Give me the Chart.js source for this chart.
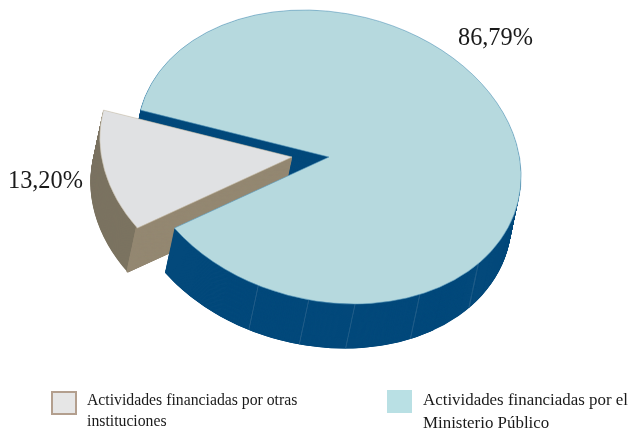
<!DOCTYPE html>
<html>
<head>
<meta charset="utf-8">
<style>
  html, body { margin: 0; padding: 0; background: #fff; }
  canvas { display: block; }
</style>
<script src="https://cdn.jsdelivr.net/npm/chart.js@4"></script>
</head>
<body>
<canvas id="pie" width="628" height="428"></canvas>
<script>
const categories = ['Actividades financiadas por el Ministerio Público', 'Actividades financiadas por otras instituciones'];
const values = [86.79, 13.20];
const percentLabels = ['86,79%', '13,20%'];
const legendLines = [
  ['Actividades financiadas por el', 'Ministerio Público'],
  ['Actividades financiadas por otras', 'instituciones']
];
const seamAngles = [46, 69, 89.5, 103.4, 119];

const topColors = ['#b6d9de', '#e0e1e3'];
const edgeColors = ['#5a9abb', '#c9bfab'];
const wallColors = ['#03497b', '#7b7360'];
const innerWallColor = '#948872';
const seamColor = '#245f8a';
const textColor = '#1a1a1a';
const FONT = '"Liberation Serif", serif';

const RADIUS = 150;
const DEG = Math.PI / 180;

// flat circle -> tilted ellipse, plus the extrusion direction of the walls
const tilt = { cx: 329, cy: 157, a: 190.5 / RADIUS, c: 25 / RADIUS, d: 147 / RADIUS };
const depth = { dx: -9.5, dy: 44.5, steps: 90 };
const explodeX = -37;

function drawPiece(ctx, arc, shiftX, shiftY, piece) {
  const saved = {
    options: arc.options, startAngle: arc.startAngle, endAngle: arc.endAngle,
    circumference: arc.circumference, innerRadius: arc.innerRadius
  };
  if (piece.start !== undefined) {
    arc.startAngle = piece.start;
    arc.endAngle = piece.end;
    arc.circumference = piece.end - piece.start;
  }
  if (piece.inner !== undefined) arc.innerRadius = piece.inner;
  if (piece.color) {
    arc.options = Object.assign({}, saved.options, {
      backgroundColor: piece.color,
      borderColor: piece.color,
      borderWidth: piece.border || 0
    });
  }
  ctx.save();
  ctx.translate(tilt.cx + shiftX, tilt.cy + shiftY);
  ctx.transform(tilt.a, 0, tilt.c, tilt.d, 0, 0);
  ctx.translate(-arc.x, -arc.y);
  arc.draw(ctx);
  ctx.restore();
  Object.assign(arc, saved);
}

function sweep(ctx, arc, offsetX, piece) {
  for (let i = depth.steps; i >= 1; i--) {
    const t = i / depth.steps;
    drawPiece(ctx, arc, offsetX + depth.dx * t, depth.dy * t, piece);
  }
}

const pie3d = {
  id: 'pie3d',
  beforeDatasetsDraw(chart) {
    const ctx = chart.ctx;
    const [big, small] = chart.getDatasetMeta(0).data;

    sweep(ctx, big, 0, { color: wallColors[0] });

    sweep(ctx, small, explodeX, { color: wallColors[1] });
    sweep(ctx, small, explodeX, {
      color: innerWallColor,
      start: small.startAngle + 0.004,
      end: small.startAngle + 0.008,
      border: 1
    });

    // the near part of the big wall sits in front of the exploded slice
    const bigEnd = big.endAngle;
    sweep(ctx, big, 0, { color: wallColors[0], start: bigEnd - 90 * DEG, end: bigEnd });
    // seams only on the rim, otherwise the radial sliver shows through the wall
    seamAngles.forEach(deg => {
      sweep(ctx, big, 0, {
        color: seamColor,
        start: deg * DEG,
        end: deg * DEG + 0.004,
        inner: RADIUS - 1
      });
    });

    drawPiece(ctx, small, explodeX, 0, {});
    drawPiece(ctx, big, 0, 0, {});
    return false;
  },
  afterDraw(chart) {
    const ctx = chart.ctx;
    ctx.save();
    ctx.fillStyle = textColor;
    ctx.textAlign = 'left';
    ctx.textBaseline = 'alphabetic';

    ctx.font = '24.3px ' + FONT;
    ctx.fillText(percentLabels[0], 458, 45);
    ctx.fillText(percentLabels[1], 8, 188);

    // legend
    ctx.fillStyle = '#e6e6e6';
    ctx.strokeStyle = '#b39f8e';
    ctx.lineWidth = 2;
    ctx.fillRect(52, 392, 24, 22);
    ctx.strokeRect(52, 392, 24, 22);
    ctx.fillStyle = '#b9e0e4';
    ctx.fillRect(387, 390, 25, 23);

    ctx.fillStyle = textColor;
    ctx.font = '15.75px ' + FONT;
    ctx.fillText(legendLines[1][0], 87, 405);
    ctx.fillText(legendLines[1][1], 87, 426);
    ctx.font = '16.9px ' + FONT;
    ctx.fillText(legendLines[0][0], 423, 405);
    ctx.fillText(legendLines[0][1], 423, 428);
    ctx.restore();
  }
};

new Chart(document.getElementById('pie'), {
  type: 'pie',
  data: {
    labels: categories,
    datasets: [{
      data: values,
      backgroundColor: topColors,
      borderColor: edgeColors,
      borderWidth: 0.5
    }]
  },
  options: {
    responsive: false,
    animation: false,
    radius: RADIUS,
    rotation: -71.4,
    plugins: { legend: { display: false }, tooltip: { enabled: false } }
  },
  plugins: [pie3d]
});
</script>
</body>
</html>
